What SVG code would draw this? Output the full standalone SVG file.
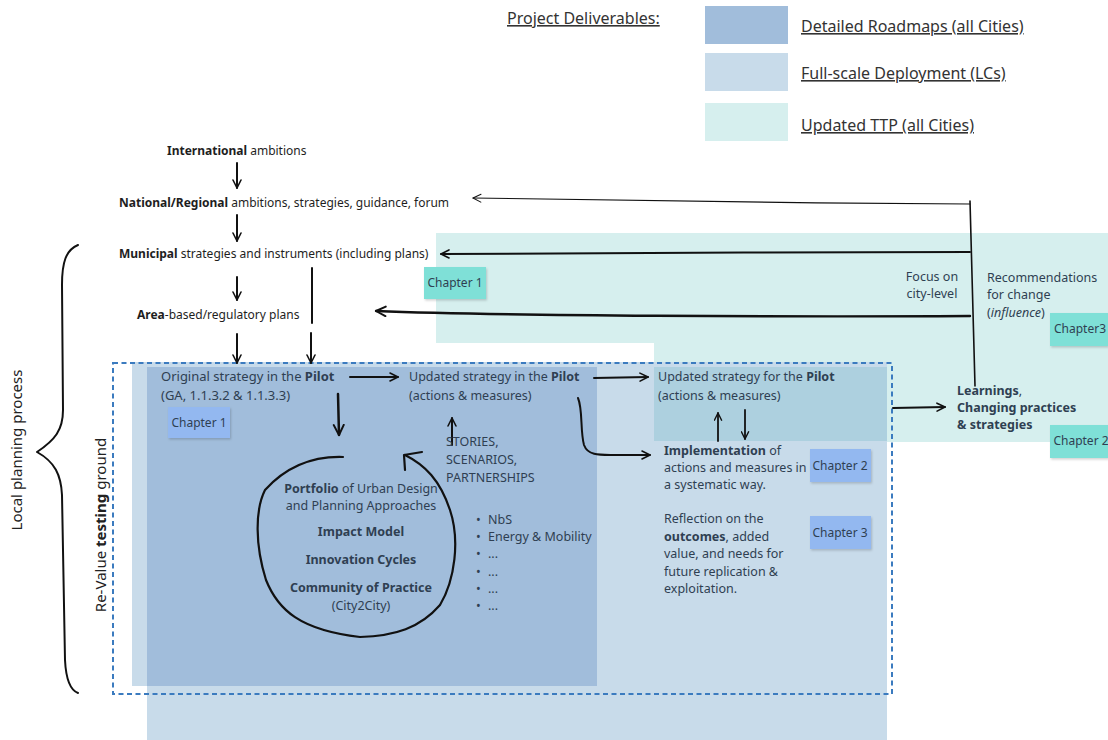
<svg xmlns="http://www.w3.org/2000/svg" width="1108" height="740" viewBox="0 0 1108 740">
<defs>
<style>
text{font-family:"Noto Sans","Open Sans","Liberation Sans",sans-serif;}
.t{font-size:12px;fill:#1e1e1e;}
.s{font-size:12.5px;fill:#2f3f52;}
.s13{font-size:13px;}
.lg{font-size:16px;fill:#333;text-decoration:underline;}
.vt{font-size:15px;fill:#222;}
.ch{font-size:12px;fill:#2f3f52;}
.b{font-weight:bold;}
.ln{fill:none;stroke:#111;stroke-linecap:round;stroke-linejoin:round;}
.chb{fill:#93b8f0;}
.cht{fill:#7fe0d7;}
</style>
<marker id="ah" viewBox="0 0 10 10" refX="9" refY="5" markerWidth="5" markerHeight="5" orient="auto" markerUnits="strokeWidth">
<path d="M1,1 L9,5 L1,9" fill="none" stroke="#111" stroke-width="1.6" stroke-linecap="round" stroke-linejoin="round"/>
</marker>
<marker id="ahs" viewBox="0 0 10 10" refX="9" refY="5" markerWidth="9" markerHeight="9" orient="auto" markerUnits="strokeWidth">
<path d="M1,1 L9,5 L1,9" fill="none" stroke="#111" stroke-width="1" stroke-linecap="round" stroke-linejoin="round"/>
</marker>
<filter id="sh" x="-10%" y="-10%" width="130%" height="140%">
<feDropShadow dx="1" dy="1.5" stdDeviation="1" flood-color="#000" flood-opacity="0.18"/>
</filter>
</defs>
<rect width="1108" height="740" fill="#ffffff"/>

<g id="legend">
<text class="lg" x="507" y="24">Project Deliverables:</text>
<rect x="705" y="6" width="83" height="38" fill="#a1bddb"/>
<text class="lg" x="801" y="32">Detailed Roadmaps (all Cities)</text>
<rect x="705" y="53" width="83" height="38" fill="#c8dbea"/>
<text class="lg" x="801" y="79">Full-scale Deployment (LCs)</text>
<rect x="705" y="103" width="83" height="38" fill="#d6efee"/>
<text class="lg" x="801" y="131">Updated TTP (all Cities)</text>
</g>

<g id="areas">
<path d="M436,233 H1108 V442 H654 V343 H436 Z" fill="#d6efee"/>
<path d="M132,362 H887 V740 H147 V686 H132 Z" fill="#c8dbea"/>
<rect x="147" y="367" width="450" height="319" fill="#a1bddb"/>
<rect x="654" y="367" width="233" height="74" fill="#add0df"/>
<rect x="113" y="363" width="779" height="331" fill="none" stroke="#3b7bbf" stroke-width="2" stroke-dasharray="5,3.5"/>
</g>

<g id="connectors">
<path class="ln" d="M237,163 V188" stroke-width="2" marker-end="url(#ah)"/>
<path class="ln" d="M237,215 V241" stroke-width="2" marker-end="url(#ah)"/>
<path class="ln" d="M237,277 V300" stroke-width="2" marker-end="url(#ah)"/>
<path class="ln" d="M312,268 V323" stroke-width="2"/>
<path class="ln" d="M237,334 V363" stroke-width="2" marker-end="url(#ah)"/>
<path class="ln" d="M311,333 V363" stroke-width="2" marker-end="url(#ah)"/>
<path class="ln" d="M350,377 L398,377" stroke-width="2" marker-end="url(#ah)"/>
<path class="ln" d="M594,378 L648,377" stroke-width="2" marker-end="url(#ah)"/>
<path class="ln" d="M338,394 L339,435" stroke-width="2.5" marker-end="url(#ah)"/>
<path class="ln" d="M452,445 V418" stroke-width="2" marker-end="url(#ah)"/>
<path class="ln" d="M578,398 C583,410 580,430 584,445 C588,456 600,455 615,455 L650,455" stroke-width="2" marker-end="url(#ah)"/>
<path class="ln" d="M718,441 V413" stroke-width="1.8" marker-end="url(#ah)"/>
<path class="ln" d="M745,410 V439" stroke-width="1.8" marker-end="url(#ah)"/>
<path class="ln" d="M343,457 C310,456 285,468 265,490 C255,510 255,545 266,580 C278,610 300,630 360,637 C395,636 420,628 440,605 C455,580 460,540 450,510 C440,480 425,465 405,455" stroke-width="2.2"/>
<path class="ln" d="M405,470 L404,455 L422,452" stroke-width="2.2"/>
<path class="ln" d="M893,408 L945,407" stroke-width="2" marker-end="url(#ah)"/>
<path class="ln" d="M975,386 L970,201" stroke-width="1.6"/>
<path class="ln" d="M970,204 C800,203 600,201 473,198" stroke-width="1.1" marker-end="url(#ahs)"/>
<path class="ln" d="M970,252 C800,252 600,253 441,254" stroke-width="2" marker-end="url(#ah)"/>
<path class="ln" d="M970,316 C800,317 500,316 376,311" stroke-width="2.4" marker-end="url(#ah)"/>
<path class="ln" d="M78,245 C66,250 62,262 62,285 L63,410 C63,430 55,440 37,452 C55,462 61,475 62,495 L65,660 C66,680 70,690 78,693" stroke-width="2"/>
</g>

<g id="n-international"><text class="t" x="167" y="155"><tspan class="b">International</tspan> ambitions</text></g>
<g id="n-national"><text class="t" x="119" y="207"><tspan class="b">National/Regional</tspan> ambitions, strategies, guidance, forum</text></g>
<g id="n-municipal"><text class="t" x="119" y="258"><tspan class="b">Municipal</tspan> strategies and instruments (including plans)</text></g>
<g id="n-area"><text class="t" x="137" y="319"><tspan class="b">Area</tspan>-based/regulatory plans</text></g>

<g id="n-local"><text class="vt" transform="translate(22,450) rotate(-90)" text-anchor="middle">Local planning process</text></g>
<g id="n-testing"><text class="vt" transform="translate(106,525) rotate(-90)" text-anchor="middle">Re-Value <tspan class="b">testing</tspan> ground</text></g>

<g id="n-original">
<text class="s s13" x="161" y="381">Original strategy in the <tspan class="b">Pilot</tspan></text>
<text class="s s13" x="161" y="400">(GA, 1.1.3.2 &amp; 1.1.3.3)</text>
</g>
<g id="n-updated-in">
<text class="s" x="409" y="381">Updated strategy in the <tspan class="b">Pilot</tspan></text>
<text class="s" x="409" y="400">(actions &amp; measures)</text>
</g>
<g id="n-updated-for">
<text class="s" x="658" y="381">Updated strategy for the <tspan class="b">Pilot</tspan></text>
<text class="s" x="658" y="400">(actions &amp; measures)</text>
</g>
<g id="n-stories">
<text class="s" x="446" y="446">STORIES,</text>
<text class="s" x="446" y="464">SCENARIOS,</text>
<text class="s" x="446" y="482">PARTNERSHIPS</text>
</g>
<g id="n-portfolio" text-anchor="middle">
<text class="s" x="361" y="493"><tspan class="b">Portfolio</tspan> of Urban Design</text>
<text class="s" x="361" y="510">and Planning Approaches</text>
<text class="s b" x="361" y="536">Impact Model</text>
<text class="s b" x="361" y="564">Innovation Cycles</text>
<text class="s b" x="361" y="592">Community of Practice</text>
<text class="s" x="361" y="610">(City2City)</text>
</g>
<g id="n-bullets">
<text class="s" x="476" y="524">•</text><text class="s" x="488" y="524">NbS</text>
<text class="s" x="476" y="541">•</text><text class="s" x="488" y="541">Energy &amp; Mobility</text>
<text class="s" x="476" y="558">•</text><text class="s" x="488" y="558">...</text>
<text class="s" x="476" y="576">•</text><text class="s" x="488" y="576">...</text>
<text class="s" x="476" y="593">•</text><text class="s" x="488" y="593">...</text>
<text class="s" x="476" y="610">•</text><text class="s" x="488" y="610">...</text>
</g>
<g id="n-implementation">
<text class="s" x="664" y="455"><tspan class="b">Implementation</tspan> of</text>
<text class="s" x="664" y="472">actions and measures in</text>
<text class="s" x="664" y="489">a systematic way.</text>
</g>
<g id="n-reflection">
<text class="s" x="664" y="523">Reflection on the</text>
<text class="s" x="664" y="541"><tspan class="b">outcomes</tspan>, added</text>
<text class="s" x="664" y="558">value, and needs for</text>
<text class="s" x="664" y="576">future replication &amp;</text>
<text class="s" x="664" y="593">exploitation.</text>
</g>
<g id="n-focus" text-anchor="middle">
<text class="s" x="932" y="281">Focus on</text>
<text class="s" x="932" y="298">city-level</text>
</g>
<g id="n-recommendations">
<text class="s" x="987" y="282">Recommendations</text>
<text class="s" x="987" y="299">for change</text>
<text class="s" x="987" y="317">(<tspan font-style="italic">influence</tspan>)</text>
</g>
<g id="n-learnings">
<text class="s b" x="957" y="395">Learnings<tspan font-weight="normal">,</tspan></text>
<text class="s b" x="957" y="412">Changing practices</text>
<text class="s b" x="957" y="429">&amp; strategies</text>
</g>

<g id="n-ch1-blue"><rect class="chb" x="168" y="407" width="62" height="31" filter="url(#sh)"/><text class="ch" x="199" y="427" text-anchor="middle">Chapter 1</text></g>
<g id="n-ch2-blue"><rect class="chb" x="810" y="449" width="61" height="33" filter="url(#sh)"/><text class="ch" x="840" y="470" text-anchor="middle">Chapter 2</text></g>
<g id="n-ch3-blue"><rect class="chb" x="810" y="516" width="61" height="33" filter="url(#sh)"/><text class="ch" x="840" y="537" text-anchor="middle">Chapter 3</text></g>
<g id="n-ch1-teal"><rect class="cht" x="424" y="267" width="62" height="32" filter="url(#sh)"/><text class="ch" x="455" y="287" text-anchor="middle">Chapter 1</text></g>
<g id="n-ch3-teal"><rect class="cht" x="1050" y="313" width="58" height="33" filter="url(#sh)"/><text class="ch" x="1080" y="333" text-anchor="middle">Chapter3</text></g>
<g id="n-ch2-teal"><rect class="cht" x="1050" y="425" width="58" height="33" filter="url(#sh)"/><text class="ch" x="1081" y="445" text-anchor="middle">Chapter 2</text></g>
</svg>
